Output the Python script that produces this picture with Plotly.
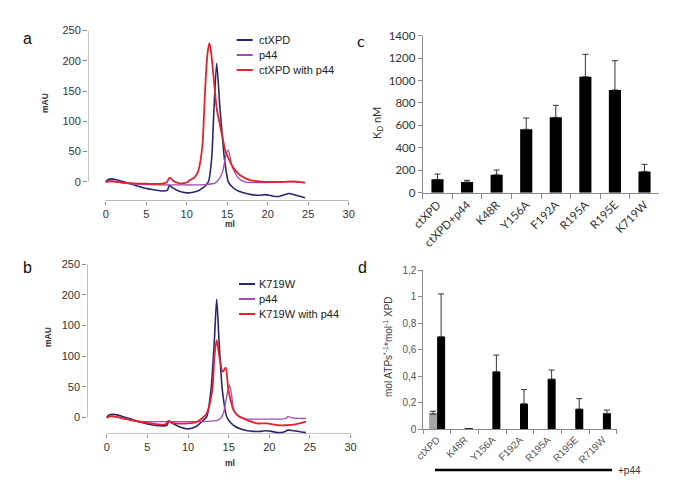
import plotly.graph_objects as go

# ---------------- data ----------------
# panel a (ctXPD chromatograms)
A_X_CTXPD = [0, 0.3, 0.7, 1.2, 2, 3, 4, 5, 6, 7, 7.6, 7.85, 8.2, 9, 10, 10.8, 11.5, 12.0, 12.4, 12.7, 13.08, 13.37, 13.7, 14.1, 14.4, 14.65, 15.14, 15.6, 16.2, 17, 18, 19, 19.7, 20.5, 21.4, 22.6, 23.5, 24.6]
A_Y_CTXPD = [0, 4, 5, 4, 1, -3, -7, -11, -13, -15, -14, -6, -9, -15, -18, -17, -14, -10, -5, 1, 39, 122, 196, 122, 75, 39, 0, -8, -14, -18, -21, -22, -21, -23, -24, -19, -22, -26]
A_X_P44 = [0, 0.7, 1.5, 3, 5, 7, 9, 11, 12.5, 13.5, 14.0, 14.44, 14.8, 15.14, 15.55, 16.0, 16.4, 17, 18, 20, 22, 23, 24.6]
A_Y_P44 = [0, 2, 0, -3, -4, -5, -5, -5, -4, -2, 5, 17, 42, 53, 28, 14, 6, 1, -1, -1, 0, 0, -1]
A_X_MIX = [0, 0.6, 1.2, 2, 3, 5, 7, 7.5, 7.9, 8.3, 9, 10, 10.4, 11.0, 11.4, 11.7, 11.97, 12.26, 12.55, 12.8, 13.0, 13.29, 13.7, 14.1, 14.4, 14.8, 15.2, 15.55, 16.0, 16.6, 17.8, 19, 20, 21, 22, 23, 24.6]
A_Y_MIX = [0, 1, 0, -1, -2, -3, -3, -1, 7, 2, -2, -1, 3, 8, 17, 35, 66, 149, 210, 229, 215, 177, 122, 94, 75, 50, 38, 28, 19, 11, 3, 1, 0, 0, 0, 1, -1]
A_NAMES = ["ctXPD", "p44", "ctXPD with p44"]

# panel b (K719W chromatograms)
B_X_K719W = [0, 0.3, 0.7, 1.3, 2, 3, 5, 7, 7.4, 7.65, 8.0, 9, 10, 11, 11.8, 12.3, 12.83, 13.24, 13.53, 13.81, 14.22, 14.76, 15.2, 15.8, 16.5, 17.3, 18, 19, 19.6, 20.3, 21, 21.8, 22.3, 23, 24.5]
B_Y_K719W = [0, 4, 5, 4, 1, -3, -11, -14, -13, -6, -9, -16, -19, -15, -6, 1, 45, 126, 193, 126, 45, 1, -8, -15, -19, -22, -23, -23, -22, -23, -25, -24, -21, -22, -25]
B_X_P44 = [0, 0.7, 1.5, 3, 4.5, 7, 10, 12, 13, 13.6, 14.0, 14.35, 14.7, 15.08, 15.35, 15.58, 16.0, 16.5, 17, 18, 20, 21.5, 22, 22.3, 22.8, 24.5]
B_Y_P44 = [0, 2, 0, -4, -7, -7, -7, -7, -6, -5, -2, 6.5, 30, 53, 38, 14, 4, 0, -2, -3, -3, -3, -2, 1, -1, -2]
B_X_MIX = [0, 0.5, 1, 2, 3, 5, 7, 7.3, 7.6, 8.0, 8.5, 10, 11, 11.7, 12.3, 12.99, 13.25, 13.53, 13.9, 14.27, 14.63, 14.96, 15.3, 15.58, 16.2, 16.8, 17.5, 18.5, 19.7, 20.5, 21, 22, 23, 24.5]
B_Y_MIX = [-1, 2, 1, -2, -5, -9, -12, -11, -6, -9, -10, -10, -8, -2, 6.5, 45, 100, 126, 95, 74.5, 81, 45, 25, 12, 2, -2, -6, -10, -10, -12, -13, -13, -12, -7]
B_NAMES = ["K719W", "p44", "K719W with p44"]
B_YTICKVALS = [0, 50, 100, 150, 200, 250]
B_YTICKTEXT = ["0", "50", "100", "100", "200", "250"]

# panel c (KD)
C_CATS = ["ctXPD", "ctXPD+p44", "K48R", "Y156A", "F192A", "R195A", "R195E", "K719W"]
C_KD = [119, 95, 160, 565, 672, 1034, 916, 190]
C_ERR = [47, 15, 42, 101, 107, 200, 261, 63]

# panel d (ATPase)
D_CATS = ["ctXPD", "K48R", "Y156A", "F192A", "R195A", "R195E", "R719W"]
D_NOP44 = [0.123]
D_NOP44_ERR = [0.011]
D_P44 = [0.697, 0.003, 0.433, 0.191, 0.377, 0.151, 0.118]
D_P44_ERR = [0.322, 0.0, 0.125, 0.106, 0.068, 0.078, 0.025]

# page body has an 8px margin: figure is drawn 8px in from the top-left corner
OX, OY = 8, 8
W, H = 670, 472
NAVY, PURPLE, RED = "#27276f", "#a24bb5", "#e4222b"
COLORS = [NAVY, PURPLE, RED]
WIDTHS = [1.6, 1.3, 1.8]
ARIAL = "Liberation Sans, Arial, sans-serif"
CALIB = "Lato, Carlito, sans-serif"


def px(x):
    return (x - OX) / W


def py(y):
    return 1 - (y - OY) / H


fig = go.Figure()

# ---- panels a & b: chromatograms ----
for (xs, ys, xa, ya) in [
    ([A_X_CTXPD, A_X_P44, A_X_MIX], [A_Y_CTXPD, A_Y_P44, A_Y_MIX], "x", "y"),
    ([B_X_K719W, B_X_P44, B_X_MIX], [B_Y_K719W, B_Y_P44, B_Y_MIX], "x2", "y2"),
]:
    for i in range(3):
        fig.add_trace(go.Scatter(x=xs[i], y=ys[i], mode="lines", xaxis=xa, yaxis=ya,
                                 line=dict(color=COLORS[i], width=WIDTHS[i], shape="spline", smoothing=0.7),
                                 showlegend=False, hoverinfo="skip"))

# ---- panel c ----
fig.add_trace(go.Bar(x=C_CATS, y=C_KD, xaxis="x3", yaxis="y3", width=0.41,
                     marker=dict(color="black", line=dict(width=0)),
                     error_y=dict(type="data", array=C_ERR, arrayminus=[0] * len(C_ERR),
                                  color="#333", thickness=1, width=3),
                     showlegend=False))

# ---- panel d ----
fig.add_trace(go.Bar(x=D_CATS[:1], y=D_NOP44, xaxis="x4", yaxis="y4", width=0.29, offset=-0.29,
                     marker=dict(color="#a6a6a6", line=dict(width=0)),
                     error_y=dict(type="data", array=D_NOP44_ERR, color="#333", thickness=1, width=3),
                     showlegend=False))
fig.add_trace(go.Bar(x=D_CATS, y=D_P44, xaxis="x4", yaxis="y4", width=0.29, offset=0,
                     marker=dict(color="black", line=dict(width=0)),
                     error_y=dict(type="data", array=D_P44_ERR, arrayminus=[0] * len(D_P44_ERR),
                                  color="#333", thickness=1, width=3),
                     showlegend=False))

axfont = dict(family=ARIAL, size=11, color="#333")
tickc = "#8a8a8a"

layout = dict(
    width=W, height=H, margin=dict(l=0, r=0, t=0, b=0, pad=0, autoexpand=False),
    paper_bgcolor="white", plot_bgcolor="rgba(0,0,0,0)",
    barmode="overlay",
    xaxis=dict(domain=[px(88), px(348.7)], range=[-2.19, 30], tickvals=[0, 5, 10, 15, 20, 25, 30],
               ticks="outside", ticklen=3, tickcolor=tickc, showgrid=False, zeroline=False,
               showline=False, tickfont=axfont, anchor="y", automargin=False),
    yaxis=dict(domain=[py(200.7), py(30.5)], range=[-31, 250], tickvals=[0, 50, 100, 150, 200, 250],
               ticks="outside", ticklen=4, tickcolor=tickc, showgrid=False, zeroline=False,
               showline=False, tickfont=axfont, anchor="x", automargin=False),
    xaxis2=dict(domain=[px(87.3), px(350.6)], range=[-2.39, 30], tickvals=[0, 5, 10, 15, 20, 25, 30],
                ticks="outside", ticklen=3, tickcolor=tickc, showgrid=False, zeroline=False,
                showline=False, tickfont=axfont, anchor="y2", automargin=False),
    yaxis2=dict(domain=[py(434), py(264.3)], range=[-27.3, 250], tickvals=B_YTICKVALS, ticktext=B_YTICKTEXT,
                ticks="outside", ticklen=4, tickcolor=tickc, showgrid=False, zeroline=False,
                showline=False, tickfont=axfont, anchor="x2", automargin=False),
    xaxis3=dict(domain=[px(422.7), px(659.3)], type="category", tickson="boundaries",
                ticks="outside", ticklen=5, tickcolor=tickc, showline=True, linecolor=tickc,
                linewidth=1, showgrid=False, tickangle=-45,
                tickfont=dict(family=CALIB, size=11.5, color="#333"), anchor="y3", automargin=False),
    yaxis3=dict(domain=[py(192.7), py(35.7)], range=[0, 1400], dtick=200,
                ticks="outside", ticklen=4, tickcolor=tickc, showline=True, linecolor=tickc,
                linewidth=1, showgrid=False, zeroline=False,
                tickfont=dict(family=CALIB, size=11.5, color="#333"), anchor="x3", automargin=False),
    xaxis4=dict(domain=[px(423.3), px(616.7)], type="category", tickson="boundaries",
                ticks="outside", ticklen=4, tickcolor=tickc, showline=True, linecolor=tickc,
                linewidth=1, showgrid=False, tickangle=-45,
                tickfont=dict(family=ARIAL, size=10, color="#555"), anchor="y4", automargin=False),
    yaxis4=dict(domain=[py(429), py(270)], range=[0, 1.2], tickvals=[0, 0.2, 0.4, 0.6, 0.8, 1, 1.2],
                ticktext=["0", "0,2", "0,4", "0,6", "0,8", "1", "1,2"],
                ticks="outside", ticklen=4, tickcolor=tickc, showline=True, linecolor=tickc,
                linewidth=1, showgrid=False, zeroline=False,
                tickfont=dict(family=ARIAL, size=10, color="#555"), anchor="x4", automargin=False),
)
fig.update_layout(**layout)

shapes = []
# detached axis lines for a and b
shapes.append(dict(type="line", xref="x", yref="y", x0=-2.19, x1=-2.19, y0=0, y1=250,
                   line=dict(color=tickc, width=1)))
shapes.append(dict(type="line", xref="x", yref="y", x0=0, x1=30, y0=-31, y1=-31,
                   line=dict(color=tickc, width=1)))
shapes.append(dict(type="line", xref="x2", yref="y2", x0=-2.39, x1=-2.39, y0=0, y1=250,
                   line=dict(color=tickc, width=1)))
shapes.append(dict(type="line", xref="x2", yref="y2", x0=0, x1=30, y0=-27.3, y1=-27.3,
                   line=dict(color=tickc, width=1)))
# +p44 bar under panel d
shapes.append(dict(type="line", xref="paper", yref="paper", x0=px(435), x1=px(612), y0=py(470), y1=py(470),
                   line=dict(color="black", width=2.5)))

annotations = []
# manual legends
for names, rows, x0 in [(A_NAMES, [40, 55, 70], 236.7), (B_NAMES, [284, 299, 314], 239)]:
    for i, (nm, ry) in enumerate(zip(names, rows)):
        shapes.append(dict(type="line", xref="paper", yref="paper", x0=px(x0), x1=px(x0 + 16),
                           y0=py(ry), y1=py(ry), line=dict(color=COLORS[i], width=2)))
        annotations.append(dict(text=nm, xref="paper", yref="paper", x=px(256.5), y=py(ry),
                                xanchor="left", yanchor="middle", showarrow=False,
                                font=dict(family=ARIAL, size=11, color="#222")))

# panel letters
for t, xx, yy, fam in [("a", 27, 38, ARIAL), ("b", 27, 267, ARIAL), ("c", 361, 40, CALIB), ("d", 362, 267, ARIAL)]:
    annotations.append(dict(text=t, xref="paper", yref="paper", x=px(xx), y=py(yy), xanchor="center",
                            yanchor="middle", showarrow=False, font=dict(family=fam, size=16, color="#111")))

# axis titles
for t, xx, yy, ang in [("mAU", 45, 103, -90), ("ml", 230, 224, 0), ("mAU", 48, 337, -90), ("ml", 230, 463, 0)]:
    annotations.append(dict(text=f"<b>{t}</b>", xref="paper", yref="paper", x=px(xx), y=py(yy),
                            xanchor="center", yanchor="middle", showarrow=False, textangle=ang,
                            font=dict(family=ARIAL, size=8.5, color="#333")))
annotations.append(dict(text="K<sub>D</sub> nM", xref="paper", yref="paper", x=px(377), y=py(123),
                        xanchor="center", yanchor="middle", showarrow=False, textangle=-90,
                        font=dict(family=CALIB, size=11, color="#333")))
annotations.append(dict(text="mol ATPs<sup>*-1</sup>*mol<sup>-1</sup> XPD", xref="paper", yref="paper",
                        x=px(388), y=py(347), xanchor="center", yanchor="middle", showarrow=False,
                        textangle=-90, font=dict(family=ARIAL, size=10, color="#444")))
annotations.append(dict(text="+p44", xref="paper", yref="paper", x=px(616), y=py(470),
                        xanchor="left", yanchor="middle", showarrow=False,
                        font=dict(family=ARIAL, size=10, color="#333")))

fig.update_layout(shapes=shapes, annotations=annotations)
fig.write_html("out.html")
